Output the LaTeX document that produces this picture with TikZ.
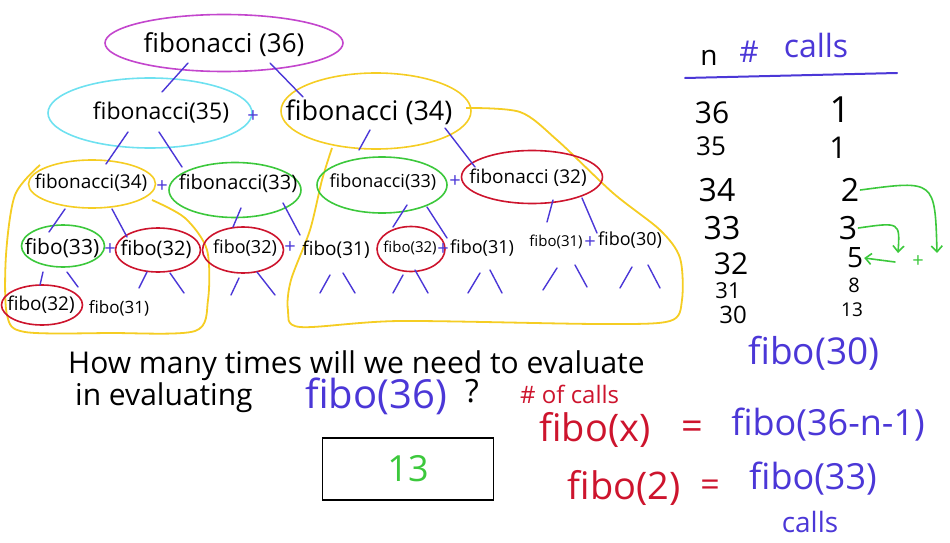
\documentclass[tikz,border=0pt]{standalone}
\usepackage{fontspec}
\setmainfont{Open Sans}
\usetikzlibrary{shapes.geometric,calc,arrows.meta}
\definecolor{inkblue}{RGB}{75,55,215}
\definecolor{inkgreen}{RGB}{60,200,60}
\definecolor{inkred}{RGB}{205,20,45}
\definecolor{inkyellow}{RGB}{245,205,35}
\definecolor{inkcyan}{RGB}{110,225,240}
\definecolor{inkmagenta}{RGB}{195,70,205}
\tikzset{
  call/.style={inner sep=1pt, font=\fontsize{#1}{#1}\selectfont},
  ring/.style={draw=#1, ellipse, line width=1.6pt, inner sep=0pt},
  edge/.style={inkblue, line width=1.4pt, line cap=round},
  plus/.style={inkblue, inner sep=0pt, font=\fontsize{20}{20}\selectfont},
  hand/.style={inner sep=0pt, anchor=base west, font=\fontsize{#1}{#1}\selectfont},
  greenarrow/.style={inkgreen, line width=1.6pt, line cap=round, -{Straight Barb[length=6pt,width=11pt]}}
}
\begin{document}
\begin{tikzpicture}[x=1pt, y=-1pt]
	\useasboundingbox (0,0) rectangle (950,543);
	% Yellow outlines of the repeated subtrees
	\draw[inkyellow, line width=1.8pt] plot[smooth] coordinates {(40,165) (15,195) (6,255) (7,315) (25,332) (110,333) (195,331) (208,300) (207,250) (185,218) (152,200)};
	\draw[inkyellow, line width=1.8pt] plot[smooth] coordinates {(466,108) (520,112) (557,140) (613,193) (660,230) (680,258) (682,300) (670,321) (600,324) (400,321) (300,327) (288,310) (291,280) (310,230) (322,180) (332,148)};
	% Rings around the calls
	\node[ring=inkmagenta, minimum width=238, minimum height=57] (r36) at (224,43) {};
	\node[ring=inkcyan, minimum width=204, minimum height=70] (r35) at (150,113) {};
	\node[ring=inkyellow, minimum width=190, minimum height=76] (r34) at (376,111) {};
	\node[ring=inkyellow, minimum width=127, minimum height=48] (s34) at (92,184) {};
	\node[ring=inkgreen, minimum width=132, minimum height=55] (s33) at (235,190) {};
	\node[ring=inkgreen, minimum width=130, minimum height=56] (t33) at (382,185) {};
	\node[ring=inkred, minimum width=141, minimum height=53] (t32) at (532,177) {};
	\node[ring=inkgreen, minimum width=83, minimum height=42] (u33) at (63,246) {};
	\node[ring=inkred, minimum width=85, minimum height=44] (u32) at (158,250) {};
	\node[ring=inkred, minimum width=81, minimum height=46] (v32) at (243,250) {};
	\node[ring=inkred, minimum width=68, minimum height=45] (w32) at (411,249) {};
	\node[ring=inkred, minimum width=81, minimum height=40] (x32) at (42,305) {};
	% Call tree
	\node[call=26] (f36) at (224,45) {fibonacci (36)};
	\node[call=23] (f35) at (161,113) {fibonacci(35)};
	\node[call=27] (f34) at (369,112) {fibonacci (34)};
	\node[call=19] (a34) at (91,183) {fibonacci(34)};
	\node[call=20] (a33) at (238,183) {fibonacci(33)};
	\node[call=18] (b33) at (383,182) {fibonacci(33)};
	\node[call=19] (b32) at (528,178) {fibonacci (32)};
	\node[call=21] (c33) at (62,248) {fibo(33)};
	\node[call=20] (c32) at (156,249) {fibo(32)};
	\node[call=18] (d32) at (245,248) {fibo(32)};
	\node[call=19] (d31) at (336,250) {fibo(31)};
	\node[call=15] (e32) at (410,248) {fibo(32)};
	\node[call=18] (e31) at (482,248) {fibo(31)};
	\node[call=15] (g31) at (556,242) {fibo(31)};
	\node[call=18] (g30) at (630,240) {fibo(30)};
	\node[call=19] (h32) at (41,305) {fibo(32)};
	\node[call=17] (h31) at (119,308) {fibo(31)};
	% Plus signs
	\node[plus] (p1) at (253,117) {+};
	\node[plus] (p2) at (162,187) {+};
	\node[plus] (p3) at (455,182) {+};
	\node[plus] (p4) at (110,250) {+};
	\node[plus] (p5) at (290,248) {+};
	\node[plus] (p6) at (443,250) {+};
	\node[plus] (p7) at (590,243) {+};
	% Edges
	\draw[edge] ($(f36)+(-36,18)$) -- ($(f35)+(1,-21)$);
	\draw[edge] ($(f36)+(46,18)$) -- ($(f34)+(-66,-15)$);
	\draw[edge] ($(f35)+(-33,19)$) -- ($(a34)+(15,-19)$);
	\draw[edge] ($(f35)+(-2,19)$) -- ($(a33)+(-56,-16)$);
	\draw[edge] ($(f34)+(1,18)$) -- ($(b33)+(-24,-32)$);
	\draw[edge] ($(f34)+(76,16)$) -- ($(b32)+(-53,-11)$);
	\draw[edge] ($(a34)+(-26,26)$) -- ($(c33)+(-13,-16)$);
	\draw[edge] ($(a34)+(21,26)$) -- ($(c32)+(-29,-12)$);
	\draw[edge] ($(a33)+(3,25)$) -- ($(d32)+(-12,-21)$);
	\draw[edge] ($(a33)+(45,20)$) -- ($(d31)+(-36,-15)$);
	\draw[edge] ($(b33)+(24,23)$) -- ($(e32)+(-17,-21)$);
	\draw[edge] ($(b33)+(44,25)$) -- ($(e31)+(-35,-10)$);
	\draw[edge] ($(b32)+(25,22)$) -- ($(g31)+(-9,-20)$);
	\draw[edge] ($(b32)+(54,20)$) -- ($(g30)+(-33,-7)$);
	\draw[edge] ($(c33)+(-19,24)$) -- ($(h32)+(-1,-20)$);
	\draw[edge] ($(c33)+(5,24)$) -- ($(h31)+(-41,-21)$);
	% Calls left open below
	\draw[edge] ($(c32)+(-9,23)$) -- ++(-8,16) ($(c32)+(14,24)$) -- ++(14,20);
	\draw[edge] ($(d32)+(-6,30)$) -- ++(-8,17) ($(d32)+(12,24)$) -- ++(18,23);
	\draw[edge] ($(d31)+(-6,25)$) -- ++(-10,18) ($(d31)+(7,23)$) -- ++(12,20);
	\draw[edge] ($(e32)+(-7,27)$) -- ++(-10,18) ($(e32)+(5,22)$) -- ++(13,23);
	\draw[edge] ($(e31)+(-2,25)$) -- ++(-12,20) ($(e31)+(8,22)$) -- ++(12,23);
	\draw[edge] ($(g31)+(1,26)$) -- ++(-14,22) ($(g31)+(19,23)$) -- ++(12,22);
	\draw[edge] ($(g30)+(2,27)$) -- ++(-12,21) ($(g30)+(18,25)$) -- ++(12,23);
	% Table of calls
	\node[call=28] (hn) at (709,58) {n};
	\node[call=30, inkblue] (hh) at (749,52) {\#};
	\node[call=32, inkblue] (hc) at (816,45) {calls};
	\draw[inkblue, line width=2pt, line cap=round] (685,78) -- (897,73);
	\node[call=30] (n36) at (712,113) {36};
	\node[call=26] (n35) at (711,146) {35};
	\node[call=32] (n34) at (717,190) {34};
	\node[call=32] (n33) at (722,228) {33};
	\node[call=30] (n32) at (731,264) {32};
	\node[call=22] (n31) at (728,291) {31};
	\node[call=24] (n30) at (733,315) {30};
	\node[call=36] (k36) at (840,110) {1};
	\node[call=30] (k35) at (838,148) {1};
	\node[call=32] (k34) at (850,190) {2};
	\node[call=32] (k33) at (848,228) {3};
	\node[call=28] (k32) at (855,258) {5};
	\node[call=20] (k31) at (854,285) {8};
	\node[call=19] (k30) at (852,310) {13};
	\coordinate (m1) at (937,253);
	\coordinate (m2) at (898,253);
	\coordinate (m3) at (895,262);
	\draw[greenarrow] (k34.east) .. controls (935,180) .. (m1);
	\draw[greenarrow] (k33.east) .. controls (900,222) .. (m2);
	\draw[greenarrow] (m3) -- (k32.east);
	\node[call=20, inkgreen] (gp) at (918,262) {+};
	% Question
	\node[hand=30] (q1) at (68,373) {How many times will we need to evaluate};
	\node[hand=37, inkblue] (q2) at (748,364) {fibo(30)};
	\node[hand=30] (q3) at (75,405) {in evaluating};
	\node[hand=40, inkblue] (q4) at (305,408) {fibo(36)};
	\node[hand=32] (q5) at (465,402) {?};
	\node[draw, line width=1.8pt, minimum width=171, minimum height=62, text=inkgreen, font=\fontsize{36}{36}\selectfont] (ans) at (408,469) {13\hspace{22pt}};
	% Reasoning
	\node[hand=24, inkred] (r1) at (520,403) {\# of calls};
	\node[call=38, inkred] (r2) at (595,430) {fibo(x)};
	\node[call=38, inkred] (r3) at (692,430) {=};
	\node[call=36, inkblue] (r4) at (828,425) {fibo(36-n-1)};
	\node[call=38, inkred] (r5) at (624,488) {fibo(2)};
	\node[call=34, inkred] (r6) at (710,488) {=};
	\node[call=36, inkblue] (r7) at (813,479) {fibo(33)};
	\node[call=28, inkblue] (r8) at (810,522) {calls};
\end{tikzpicture}
\end{document}
